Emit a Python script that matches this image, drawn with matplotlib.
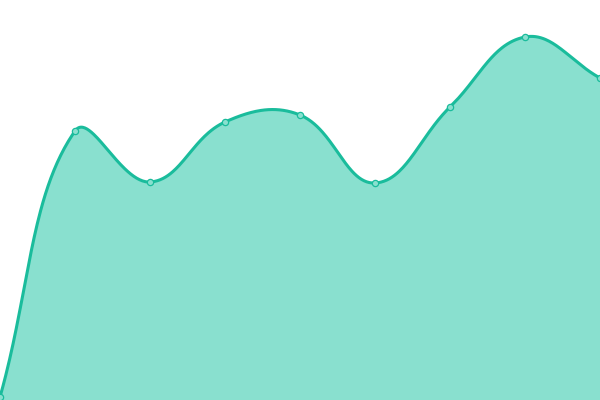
import numpy as np
import matplotlib
matplotlib.use("Agg")
import matplotlib.pyplot as plt

# values (0 = bottom edge, 400 = top edge)
labels = ["1", "2", "3", "4", "5", "6", "7", "8", "9"]
values = [3, 269, 218, 278, 285, 217, 293, 363, 322]

line_color = "#1abc9c"
fill_color = "#89e0cf"
tension = 0.4


def smooth_curve(pts, t=0.4, steps=60):
    # bezier spline through the points, control points scaled by distance
    n = len(pts)
    cp_prev = pts.copy()
    cp_next = pts.copy()
    for i in range(n):
        p0 = pts[max(i - 1, 0)]
        p1 = pts[i]
        p2 = pts[min(i + 1, n - 1)]
        d01 = np.hypot(*(p1 - p0))
        d12 = np.hypot(*(p2 - p1))
        tot = d01 + d12
        s01 = d01 / tot if tot else 0
        s12 = d12 / tot if tot else 0
        cp_prev[i] = p1 - t * s01 * (p2 - p0)
        cp_next[i] = p1 + t * s12 * (p2 - p0)
    u = np.linspace(0, 1, steps)[:, None]
    segs = []
    for i in range(n - 1):
        a, b, c, d = pts[i], cp_next[i], cp_prev[i + 1], pts[i + 1]
        seg = ((1 - u) ** 3 * a + 3 * (1 - u) ** 2 * u * b
               + 3 * (1 - u) * u ** 2 * c + u ** 3 * d)
        segs.append(seg if i == 0 else seg[1:])
    return np.vstack(segs)


x = np.arange(len(values), dtype=float)
y = np.array(values, dtype=float)

fig = plt.figure(figsize=(6, 4), dpi=100)
ax = fig.add_axes([0, 0, 1, 1])
ax.set_xlim(0, len(values) - 1)
ax.set_ylim(0, 400)
ax.axis("off")

# build the curve in pixel space, then bring it back to data space
disp = ax.transData.transform(np.column_stack([x, y]))
curve = ax.transData.inverted().transform(smooth_curve(disp, tension))
sx, sy = curve[:, 0], curve[:, 1]

ax.fill_between(sx, sy, 0, color=fill_color, linewidth=0)
ax.plot(sx, sy, color=line_color, linewidth=2.2, solid_capstyle="round")
ax.plot(x, y, "o", markersize=4.5, markerfacecolor=fill_color,
        markeredgecolor=line_color, markeredgewidth=0.9)

fig.savefig("out.png", dpi=100)
